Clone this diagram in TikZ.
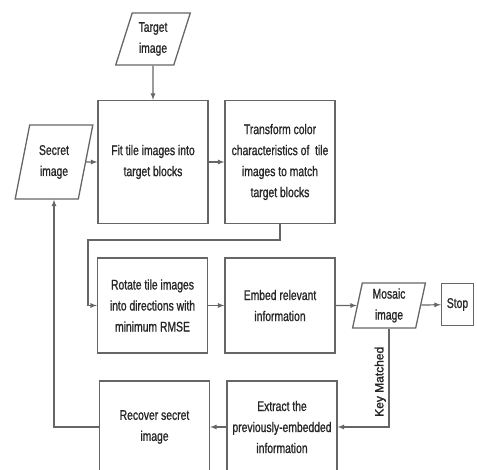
\documentclass[tikz,border=0pt]{standalone}
\usepackage{fontspec}
\setmainfont{Liberation Sans}[FakeStretch=0.74,FakeBold=1]
\newfontfamily\keyfont{Liberation Sans}[FakeBold=1.5]
\usetikzlibrary{shapes.geometric,positioning}

\begin{document}
\begin{tikzpicture}[x=1pt,y=-1pt,
        proc/.style={draw=black!60,line width=1.3pt,minimum width=110pt,minimum height=95pt,
            inner sep=2pt,align=center,text=black!85,font=\fontsize{14}{21}\selectfont},
        io/.style={trapezium,trapezium left angle=71,trapezium right angle=109,trapezium stretches=true,
            draw=black!60,line width=1.3pt,inner sep=1pt,align=center,text=black!85,font=\fontsize{14}{21}\selectfont},
        link/.style={draw=black!60,line width=1.2pt,-latex}]
                \useasboundingbox (0,0) rectangle (477,470);
                \clip (0,0) rectangle (477,470);
                % inputs
                \node[io,minimum width=75pt,minimum height=52pt] (target) at (153,39) {Target\\image};
                \node[io,minimum width=78pt,minimum height=74pt,trapezium left angle=75,trapezium right angle=105] (secret) at (54,162) {Secret\\image};
                % embedding
                \node[proc,minimum height=123pt] (fit) at (153,162) {Fit tile images into\\target blocks};
                \node[proc,minimum height=123pt] (trans) at (280,162) {Transform color\\characteristics of~ tile\\images to match\\target blocks};
                \node[proc] (rot) at (152.5,305.5) {Rotate tile images\\into directions with\\minimum RMSE};
                \node[proc] (embed) at (280,305.5) {Embed relevant\\information};
                \node[io,minimum width=73pt,minimum height=45pt,trapezium left angle=80,trapezium right angle=100] (mosaic) at (389,305.5) {Mosaic\\image};
                \node[proc,minimum width=32pt,minimum height=42pt] (stop) at (457.5,304.5) {Stop};
                % extraction
                \node[proc,minimum height=92pt] (extract) at (282,427) {Extract the\\previously-embedded\\information};
                \node[proc,minimum height=92pt] (recover) at (154.5,427) {Recover secret\\image};
                \coordinate (turn) at (88,240);
                % connectors
                \draw[link] (target) -- (fit);
                \draw[link] (secret) -- (fit);
                \draw[link] (fit) -- (trans);
                \draw[link] (trans) |- (turn) |- (rot);
                \draw[link] (rot) -- (embed);
                \draw[link] (embed) -- (mosaic);
                \draw[link] (mosaic) -- (stop);
                \draw[link] (mosaic) |- node[pos=.27,rotate=90,anchor=south,inner sep=2.5pt,text=black!85,font=\keyfont\fontsize{12}{14}\selectfont] (key) {Key Matched} (extract);
                \draw[link] (extract) -- (recover);
                \draw[link] (recover) -| (secret);
            \end{tikzpicture}
\end{document}
